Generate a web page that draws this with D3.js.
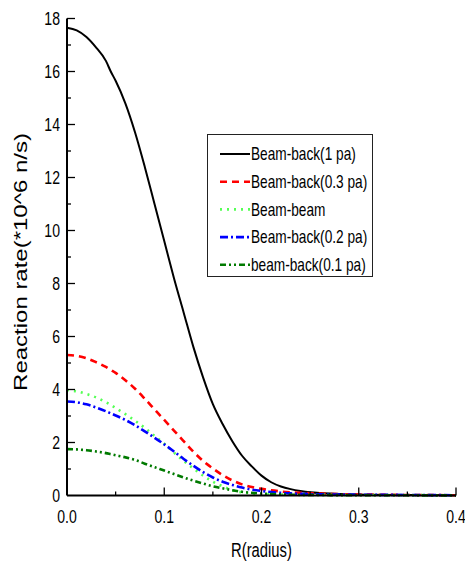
<!DOCTYPE html>
<html><head><meta charset="utf-8">
<script src="https://cdn.jsdelivr.net/npm/d3@7"></script>
<style>html,body{margin:0;padding:0;background:#fff;}svg{display:block;}</style>
</head><body>
<script>
const radius = [0,0.01,0.02,0.03,0.04,0.045,0.05,0.06,0.07,0.08,0.09,0.10,0.11,0.12,0.13,0.14,0.15,0.16,0.17,0.18,0.19,0.20,0.21,0.22,0.23,0.24,0.25,0.26,0.28,0.30,0.35,0.40];
const beamBack1 = [17.65,17.55,17.3,16.9,16.4,16.0,15.65,14.8,13.7,12.4,11.0,9.6,8.2,6.9,5.6,4.45,3.45,2.7,2.05,1.5,1.1,0.75,0.5,0.34,0.24,0.17,0.12,0.09,0.06,0.04,0.02,0.01];
const beamBack03 = [5.3,5.27,5.18,5.03,4.85,4.74,4.63,4.35,4.03,3.65,3.25,2.85,2.45,2.05,1.65,1.3,1.02,0.77,0.57,0.42,0.32,0.25,0.2,0.15,0.12,0.1,0.085,0.07,0.05,0.04,0.02,0.01];
const beamBeam = [3.98,3.93,3.83,3.7,3.52,3.42,3.3,3.07,2.82,2.55,2.25,1.95,1.62,1.3,1.02,0.75,0.52,0.35,0.2,0.12,0.08,0.06,0.05,0.04,0.035,0.03,0.03,0.025,0.02,0.02,0.015,0.01];
const beamBack02 = [3.55,3.52,3.44,3.32,3.18,3.1,3.02,2.85,2.65,2.42,2.18,1.93,1.66,1.38,1.12,0.88,0.68,0.52,0.4,0.3,0.22,0.17,0.13,0.1,0.08,0.06,0.05,0.045,0.035,0.03,0.02,0.01];
const beamBack01 = [1.75,1.74,1.71,1.66,1.6,1.56,1.52,1.44,1.34,1.2,1.07,0.94,0.81,0.68,0.56,0.45,0.35,0.27,0.2,0.14,0.1,0.07,0.055,0.04,0.03,0.025,0.02,0.018,0.014,0.01,0.007,0.005];
const seriesNames = ["Beam-back(1 pa)","Beam-back(0.3 pa)","Beam-beam","Beam-back(0.2 pa)","beam-back(0.1 pa)"];
const xTicks = [0.0,0.1,0.2,0.3,0.4];
const xTickLabels = ["0.0","0.1","0.2","0.3","0.4"];
const yTicks = [0,2,4,6,8,10,12,14,16,18];
const xLabel = "R(radius)";
const yLabel = "Reaction rate(*10^6 n/s)";

const W = 465, H = 567;
const SX = 0.76;
const svg = d3.select("body").append("svg").attr("width", W).attr("height", H);
const x = d3.scaleLinear().domain([0, 0.4]).range([67, 456]);
const y = d3.scaleLinear().domain([0, 18]).range([495.5, 18.5]);
const font = "'Liberation Sans', Arial, sans-serif";

const styles = [
  {color:"#000000", dash:null, w:2},
  {color:"#ff0000", dash:"7,5", w:2.6},
  {color:"#55ff55", dash:"2,5", w:2.6},
  {color:"#0000ff", dash:"8,3,2,3", w:2.6},
  {color:"#007a00", dash:"6,3,2,3,2,3", w:2.6}
];
const data = [beamBack1, beamBack03, beamBeam, beamBack02, beamBack01];

const line = d3.line().x((d,i)=>x(radius[i])).y(d=>y(d)).curve(d3.curveMonotoneX);
data.forEach((s, k) => {
  svg.append("path").attr("d", line(s)).attr("fill","none")
    .attr("stroke", styles[k].color).attr("stroke-width", styles[k].w)
    .attr("stroke-dasharray", styles[k].dash);
});

// axes
const ax = svg.append("g").attr("stroke","#000");
ax.append("line").attr("x1", x(0)).attr("x2", x(0.4)).attr("y1", y(0)).attr("y2", y(0)).attr("stroke-width", 2);
ax.append("line").attr("x1", x(0)).attr("x2", x(0)).attr("y1", y(0)).attr("y2", y(18)).attr("stroke-width", 2);
d3.range(0, 0.4001, 0.05).forEach(v => {
  const major = Math.abs(v*10 - Math.round(v*10)) < 1e-6;
  if (v === 0) return;
  ax.append("line").attr("x1", x(v)).attr("x2", x(v)).attr("y1", y(0)).attr("y2", y(0) - (major ? 8 : 4)).attr("stroke-width", 1.3);
});
d3.range(1, 18.001, 1).forEach(v => {
  const major = v % 2 === 0;
  ax.append("line").attr("x1", x(0)).attr("x2", x(0) + (major ? 8 : 4)).attr("y1", y(v)).attr("y2", y(v)).attr("stroke-width", 1.3);
});

function htext(px, py, txt, size, anchor) {
  svg.append("text").attr("transform", `translate(${px},${py}) scale(${SX},1)`)
    .attr("text-anchor", anchor).attr("font-family", font).attr("font-size", size)
    .attr("fill", "#000").text(txt);
}
xTicks.forEach((v, i) => htext(x(v), 523, xTickLabels[i], 18.5, "middle"));
yTicks.forEach(v => htext(60, y(v) + 6.5, String(v), 18.5, "end"));
htext((x(0)+x(0.4))/2, 557, xLabel, 19.5, "middle");
svg.append("text").attr("transform", `translate(27,262) scale(${SX},1) rotate(-90)`)
  .attr("text-anchor","middle").attr("font-family", font).attr("font-size", 24)
  .attr("fill","#000").text(yLabel);

// legend
const lg = svg.append("g");
lg.append("rect").attr("x", 207.5).attr("y", 134.5).attr("width", 165).attr("height", 142)
  .attr("fill","#fff").attr("stroke","#222").attr("stroke-width",1);
seriesNames.forEach((name, k) => {
  const cy = 154 + k * 27.7;
  lg.append("line").attr("x1", 220).attr("x2", 250).attr("y1", cy).attr("y2", cy)
    .attr("stroke", styles[k].color).attr("stroke-width", styles[k].w)
    .attr("stroke-dasharray", styles[k].dash);
  htext(251, cy + 6.3, name, 18, "start");
});
</script>
</body></html>
